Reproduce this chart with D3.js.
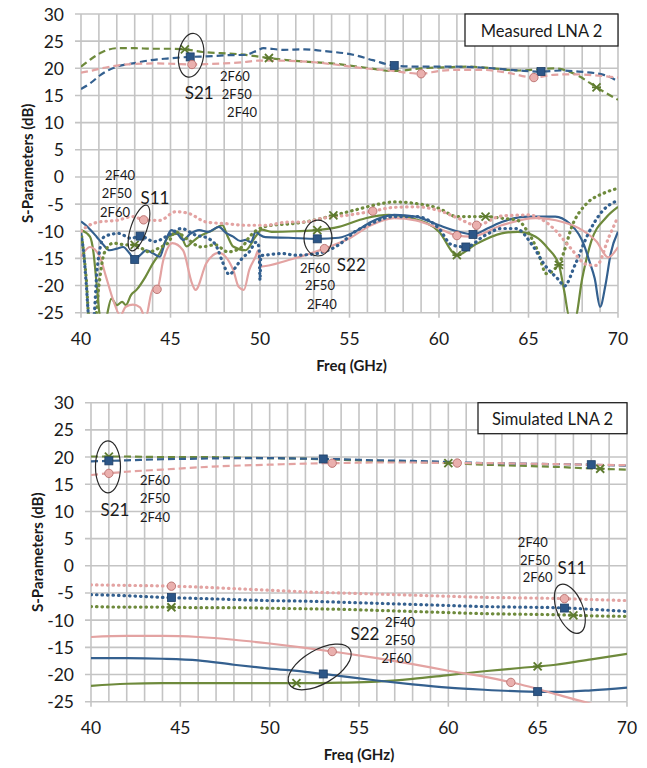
<!DOCTYPE html>
<html>
<head>
<meta charset="utf-8">
<script src="https://cdn.jsdelivr.net/npm/d3@7"></script>
<style>
  body { margin: 0; background: #fff; }
  text { font-family: Lato, "Noto Sans", sans-serif; fill: #1a1a1a; }
</style>
</head>
<body>
<div id="chart"></div>
<script>
// ---- measured LNA 2 ----
// S21 (dashed)
var measS21_2F40_f = [40, 40.5, 41, 42, 43, 44.3, 45.3, 46.2, 47.2, 48, 49, 49.9, 51, 52.7, 54.2, 55.8, 57.2, 59, 60, 61, 62.5, 63.8, 65.3, 66.4, 67.5, 68.7, 70];
var measS21_2F40_v = [19.2, 19.5, 19.9, 20.5, 20.8, 20.9, 20.8, 20.7, 20.8, 20.9, 21.1, 21.4, 21.4, 21.2, 20.7, 20.0, 19.6, 19.0, 19.5, 19.7, 19.7, 19.2, 18.3, 18.8, 18.9, 18.7, 18.3];
var measS21_2F50_f = [40, 40.5, 41.1, 42, 42.9, 43.9, 44.8, 46.1, 47, 48.1, 49.2, 49.8, 50.2, 51.3, 52.5, 53.5, 55.2, 56.3, 57.5, 59, 61, 63, 64.5, 65.7, 66.8, 67.8, 69.2, 70];
var measS21_2F50_v = [16.2, 17.2, 18.8, 20.3, 20.9, 21.5, 21.8, 22.1, 22.2, 22.4, 22.5, 23.2, 23.7, 23.4, 23.5, 23.2, 22.5, 21.5, 20.5, 20.3, 20.3, 20.0, 19.6, 19.4, 19.6, 19.4, 18.8, 17.6];
var measS21_2F60_f = [40, 40.6, 41.2, 42, 43, 44, 45, 45.8, 46.8, 47.8, 48.8, 49.6, 50.5, 51.5, 52.7, 54, 55.5, 57.5, 59, 60.5, 61.7, 63, 64.5, 65.5, 66.4, 67.2, 67.8, 68.8, 70];
var measS21_2F60_v = [20.3, 21.8, 23.0, 23.7, 23.7, 23.6, 23.6, 23.5, 23.0, 22.8, 22.6, 22.3, 21.9, 21.5, 21.2, 20.9, 20.3, 19.5, 20.0, 20.2, 20.3, 20.0, 19.6, 19.8, 20.0, 19.5, 18.6, 16.5, 14.2];

// S11 (dotted)
var measS11_2F40_f = [40, 40.3, 41, 42, 42.9, 43.5, 44.4, 45.3, 46, 47, 48.1, 49.2, 50.3, 51.6, 52.5, 53.5, 55, 56.3, 57.5, 58.7, 60, 61, 62.1, 63.5, 65, 66.4, 67.3, 68.3, 68.8, 69.5, 70];
var measS11_2F40_v = [-10, -9.2, -8.3, -8, -7.3, -7.9, -8, -6.4, -6.7, -8.3, -8.6, -8.9, -8.9, -8.3, -8.3, -7.6, -7, -6.3, -5.6, -5.5, -6.2, -7.5, -8.9, -7.2, -7, -9.5, -12.9, -16.2, -16.3, -11, -7.3];
var measS11_2F50_f = [40, 40.15, 40.3, 40.45, 40.7, 40.9, 41.3, 42.1, 42.8, 43.3, 44.1, 44.9, 45.6, 46.4, 47.1, 47.6, 47.9, 48.3, 48.6, 49, 49.4, 49.8, 49.95, 50.0, 50.05, 50.3, 51.2, 52, 53, 54.4, 55.3, 56.2, 57.5, 58.7, 60, 60.7, 61.5, 62.6, 63.5, 64.3, 65.2, 65.9, 66.7, 67, 67.6, 68.3, 69.1, 70];
var measS11_2F50_v = [-10.5, -14, -20, -26, -26, -17, -11, -10.4, -11.3, -10.9, -11.9, -10.7, -9.5, -10.7, -11.3, -13, -15.6, -18, -16.8, -15, -13.8, -12, -13, -19, -14.5, -14.4, -14.1, -14.4, -14.2, -12.5, -10.1, -8.6, -7.3, -7.3, -9.5, -12.5, -12.9, -10.7, -9.5, -9.5, -12.5, -16.2, -19, -20.1, -16.2, -10.7, -6.4, -4.3];
var measS11_2F60_f = [40, 40.15, 40.3, 40.45, 40.8, 41.0, 41.3, 41.8, 42.5, 43, 43.8, 44.4, 44.9, 45.25, 46, 46.7, 47.5, 48.2, 49, 49.35, 49.7, 50.65, 51.5, 52.5, 54.1, 55.3, 56.8, 57.5, 58.7, 60, 61, 62.6, 63.5, 64.4, 64.9, 65.5, 66, 66.8, 67.5, 68.25, 69.2, 70];
var measS11_2F60_v = [-10, -14, -19, -26, -26, -20, -14, -12.2, -12.5, -12.5, -13.8, -13, -12, -10.1, -11.6, -12.9, -12.5, -13.8, -12.9, -11.3, -10.1, -8.9, -8.7, -8.3, -7.1, -6.1, -4.9, -4.6, -4.9, -5.8, -7.3, -7.3, -7.6, -8, -9.8, -13.5, -17.8, -15.3, -8.5, -4.9, -3, -2.1];

// S22 (solid)
var measS22_2F40_f = [40, 40.5, 41.05, 41.4, 41.8, 42.2, 42.5, 42.9, 43.3, 43.6, 44, 44.25, 44.6, 45.1, 45.7, 46.2, 46.4, 47, 47.7, 48.5, 48.8, 49.1, 49.4, 49.75, 49.9, 50.0, 51.6, 53.6, 55, 56.2, 57.5, 58.7, 60, 61, 61.8, 63.5, 65.4, 66.9, 68, 68.8, 69.45, 70];
var measS22_2F40_v = [-14.7, -12.9, -14.7, -18.4, -22.7, -25.5, -23.9, -23.5, -24, -26, -20.8, -20.7, -15.3, -12.2, -13.5, -19.6, -20.8, -15.9, -14, -17.1, -20.2, -20.8, -17.1, -14.7, -13.5, -16.5, -15.3, -13.2, -11.3, -8.9, -7.6, -8, -9.5, -10.8, -11, -8.9, -7.6, -8.3, -9.8, -11.9, -14.8, -12.9];
var measS22_2F50_f = [40, 40.4, 40.87, 41.2, 41.6, 42, 42.35, 42.7, 43, 43.3, 43.65, 44, 44.4, 44.7, 45.05, 45.4, 45.7, 46.1, 46.6, 47.1, 47.7, 48.1, 48.5, 48.9, 49.2, 49.5, 49.75, 50, 50.3, 51.6, 53.2, 54.4, 55.3, 56.2, 57.5, 58.7, 60, 61, 61.9, 62.7, 63.5, 65, 66.5, 67.3, 67.8, 68.1, 68.4, 68.7, 69, 69.3, 69.6, 70];
var measS22_2F50_v = [-8.2, -9.3, -11, -12.3, -13.5, -13.2, -12.9, -14, -15.2, -14.4, -13.5, -14, -14.7, -12, -9.8, -10.5, -11.6, -10.5, -9.8, -10.1, -9.2, -10.3, -11, -11.8, -11.6, -12, -10.1, -10.7, -11.1, -11.2, -11.4, -11.2, -10.1, -8.3, -7, -7.3, -8.9, -10, -10.6, -9.5, -8.3, -7.3, -7.3, -8.6, -10.5, -12.5, -15.5, -18.7, -23.9, -19.9, -14, -10.1];
var measS22_2F60_f = [40, 40.5, 40.7, 40.87, 41.05, 41.3, 41.7, 42, 42.3, 42.5, 42.8, 43.1, 43.6, 44, 44.4, 44.9, 45.5, 45.9, 46.2, 46.6, 47.35, 47.9, 48.2, 48.5, 49.2, 49.75, 50.1, 50.65, 52, 53.2, 54.4, 55.9, 57.2, 58.5, 60, 61, 62, 63.5, 64.4, 65.4, 66.1, 66.7, 67, 67.3, 67.6, 68, 68.5, 69.3, 70];
var measS22_2F60_v = [-9.8, -11, -14, -19.6, -25.5, -27, -22.4, -23.6, -23, -23.6, -21.7, -20.8, -18.4, -16, -14, -11, -10.4, -12.8, -12, -11, -9.8, -8.9, -11, -12.8, -13.5, -11, -9.7, -10.1, -10, -9.8, -9.2, -7.6, -7, -7.6, -10.1, -14.4, -12.5, -10.4, -10.1, -11, -13.2, -16.2, -21.1, -26, -26, -18.7, -11.9, -7.6, -5.5];

// marker frequencies (measured)
var measS21_markers = { "2F40": [46.2, 59, 65.3], "2F50": [46.1, 57.5, 65.7], "2F60": [45.8, 50.5, 68.8] };
var measS11_markers = { "2F40": [43.5, 56.3, 62.1], "2F50": [43.3, 61.5], "2F60": [43, 54.1, 62.6] };
var measS22_markers = { "2F40": [44.25, 53.6, 61], "2F50": [43, 53.2, 61.9], "2F60": [53.2, 61, 66.7] };

// ---- simulated LNA 2 ----
var simFreq = [40, 42, 44, 46, 48, 50, 52, 54, 56, 58, 60, 62, 64, 66, 68, 70];
var simS21_2F40 = [16.7, 17.3, 17.7, 18.1, 18.4, 18.6, 18.8, 18.9, 19.0, 19.0, 18.9, 18.9, 18.8, 18.7, 18.6, 18.5];
var simS21_2F50 = [19.2, 19.4, 19.6, 19.7, 19.8, 19.8, 19.7, 19.6, 19.4, 19.3, 19.1, 18.9, 18.8, 18.7, 18.6, 18.4];
var simS21_2F60 = [20.1, 20.1, 20.0, 20.0, 19.9, 19.8, 19.7, 19.5, 19.3, 19.1, 18.9, 18.6, 18.4, 18.2, 17.9, 17.7];
var simS11_2F40 = [-3.5, -3.6, -3.7, -3.9, -4.2, -4.5, -4.8, -5.0, -5.2, -5.4, -5.6, -5.8, -5.9, -6.0, -6.2, -6.4];
var simS11_2F50 = [-5.3, -5.5, -5.8, -6.0, -6.2, -6.4, -6.5, -6.7, -6.9, -7.1, -7.3, -7.5, -7.6, -7.7, -8.0, -8.4];
var simS11_2F60 = [-7.5, -7.6, -7.6, -7.7, -7.7, -7.8, -7.9, -8.0, -8.2, -8.4, -8.6, -8.8, -8.9, -9.0, -9.2, -9.3];
var simS22_2F40 = [-13.1, -12.9, -12.9, -13.1, -13.6, -14.3, -15.1, -16.0, -17.0, -18.1, -19.3, -20.4, -21.8, -23.6, -25.4, -27];
var simS22_2F50 = [-17.0, -17.0, -17.1, -17.4, -18.2, -18.9, -19.5, -20.3, -21.1, -21.8, -22.4, -22.8, -23.1, -23.2, -22.9, -22.4];
var simS22_2F60 = [-22.1, -21.7, -21.6, -21.6, -21.6, -21.6, -21.6, -21.5, -21.3, -20.8, -20.1, -19.4, -18.8, -18.2, -17.2, -16.2];

var simS21_markers = { "2F40": [41, 53.5, 60.5], "2F50": [41, 53, 68], "2F60": [41, 60, 68.5] };
var simS11_markers = { "2F40": [44.5, 66.5], "2F50": [44.5, 66.5], "2F60": [44.5, 67] };
var simS22_markers = { "2F40": [53.5, 63.5], "2F50": [53, 65], "2F60": [51.5, 65] };

// axis ticks
var xTicks = [40, 45, 50, 55, 60, 65, 70];
var yTicks = [30, 25, 20, 15, 10, 5, 0, -5, -10, -15, -20, -25];

// styling
var colors = { "2F40": "#e3a3a2", "2F50": "#34608f", "2F60": "#6e8a3c" };
var dashes = { S21: "7,4", S11: "0.5,5", S22: null };

var svg = d3.select("#chart").append("svg")
  .attr("width", 647)
  .attr("height", 768);

function zip(f, v) {
  return f.map(function(d, i) { return { f: d, v: v[i] }; });
}

// value of a series at a marker frequency (linear between points)
function valueAt(pts, f) {
  var i = d3.bisector(function(d) { return d.f; }).left(pts, f);
  if (i <= 0) return pts[0].v;
  if (i >= pts.length) return pts[pts.length - 1].v;
  var a = pts[i - 1], b = pts[i];
  return a.v + (b.v - a.v) * (f - a.f) / (b.f - a.f);
}

function drawPanel(p) {
  var x = d3.scaleLinear().domain([40, 70]).range([p.left, p.right]);
  var y = d3.scaleLinear().domain([-25, 30]).range([p.bottom, p.top]);
  var g = svg.append("g");

  // grid
  g.selectAll(".vg").data(d3.range(40, 71, 1)).enter().append("line")
    .attr("x1", d => x(d)).attr("x2", d => x(d))
    .attr("y1", y(30)).attr("y2", y(-25))
    .attr("stroke", "#c4c4c4").attr("stroke-width", 1.6);
  g.selectAll(".hg").data(yTicks).enter().append("line")
    .attr("x1", x(40) - 6).attr("x2", x(70))
    .attr("y1", d => y(d)).attr("y2", d => y(d))
    .attr("stroke", "#c4c4c4").attr("stroke-width", 1.6);
  g.selectAll(".xt").data(xTicks).enter().append("line")
    .attr("x1", d => x(d)).attr("x2", d => x(d))
    .attr("y1", y(-25)).attr("y2", y(-25) + 5)
    .attr("stroke", "#c4c4c4").attr("stroke-width", 1.6);

  // tick labels
  g.selectAll(".yl").data(yTicks).enter().append("text")
    .attr("x", x(40) - 17).attr("y", d => y(d))
    .attr("text-anchor", "end").attr("dominant-baseline", "central")
    .style("font-size", "17.5px").text(d => d);
  g.selectAll(".xl").data(xTicks).enter().append("text")
    .attr("x", d => x(d)).attr("y", y(-25) + 26)
    .attr("text-anchor", "middle").attr("dominant-baseline", "central")
    .style("font-size", "17.5px").text(d => d);

  // axis titles
  g.append("text")
    .attr("x", (p.left + p.right) / 2 + p.xTitleShift).attr("y", y(-25) + p.xTitleGap)
    .attr("text-anchor", "middle").attr("dominant-baseline", "central")
    .style("font-size", "15px").style("font-weight", "bold").text("Freq (GHz)");
  g.append("text")
    .attr("transform", "translate(" + p.yTitleX + "," + ((p.top + p.bottom) / 2) + ") rotate(-90)")
    .attr("text-anchor", "middle").attr("dominant-baseline", "central")
    .style("font-size", "15px").style("font-weight", "bold").text("S-Parameters (dB)");

  // clip
  var clipId = "clip" + p.id;
  svg.append("clipPath").attr("id", clipId).append("rect")
    .attr("x", p.left).attr("y", p.top - 2)
    .attr("width", p.right - p.left).attr("height", p.bottom - p.top + 3);

  var line = d3.line().x(d => x(d.f)).y(d => y(d.v)).curve(p.curve);
  var lines = g.append("g").attr("clip-path", "url(#" + clipId + ")");
  var marks = g.append("g");

  p.series.forEach(function(s) {
    var pts = zip(s.f, s.v);
    var path = lines.append("path").datum(pts)
      .attr("d", line)
      .attr("fill", "none")
      .attr("stroke", colors[s.cfg])
      .attr("stroke-width", s.param === "S11" ? 3.2 : 2.2);
    if (dashes[s.param]) path.attr("stroke-dasharray", dashes[s.param]);
    if (s.param === "S11") path.attr("stroke-linecap", "round");

    s.markers.forEach(function(mf) {
      var cx = x(mf), cy = y(valueAt(pts, mf));
      if (s.cfg === "2F50") {
        marks.append("rect").attr("x", cx - 4).attr("y", cy - 4)
          .attr("width", 8).attr("height", 8)
          .attr("fill", "#2c5687").attr("stroke", "#1f3f66").attr("stroke-width", 0.8);
      } else if (s.cfg === "2F40") {
        marks.append("circle").attr("cx", cx).attr("cy", cy).attr("r", 4.2)
          .attr("fill", "#eab0ae").attr("stroke", "#b86e6c").attr("stroke-width", 0.9);
      } else {
        var m = marks.append("g").attr("transform", "translate(" + cx + "," + cy + ")")
          .attr("stroke", "#5d7a2e").attr("stroke-width", 1.8);
        m.append("line").attr("x1", -4).attr("y1", -4).attr("x2", 4).attr("y2", 4);
        m.append("line").attr("x1", -4).attr("y1", 4).attr("x2", 4).attr("y2", -4);
        m.append("line").attr("x1", -4.5).attr("y1", 0).attr("x2", 4.5).attr("y2", 0);
      }
    });
  });

  // annotations
  p.ellipses.forEach(function(e) {
    g.append("ellipse")
      .attr("transform", "translate(" + x(e.f) + "," + y(e.v) + ") rotate(" + e.rot + ")")
      .attr("rx", e.rx).attr("ry", e.ry)
      .attr("fill", "none").attr("stroke", "#2a2a2a").attr("stroke-width", 1.2);
  });
  p.labels.forEach(function(l) {
    g.append("text")
      .attr("x", x(l.f)).attr("y", y(l.v))
      .attr("text-anchor", "middle").attr("dominant-baseline", "central")
      .style("font-size", l.size + "px").text(l.text);
  });

  // title box
  var bw = p.boxW, bh = p.boxH;
  g.append("rect")
    .attr("x", p.right - bw).attr("y", p.top)
    .attr("width", bw).attr("height", bh)
    .attr("fill", "#fff").attr("stroke", "#222").attr("stroke-width", 1.3);
  g.append("text")
    .attr("x", p.right - bw / 2).attr("y", p.top + bh / 2 + 1)
    .attr("text-anchor", "middle").attr("dominant-baseline", "central")
    .style("font-size", "16.5px").text(p.title);
}

function seriesSet(data, markers) {
  var out = [];
  ["S22", "S11", "S21"].forEach(function(param) {
    ["2F60", "2F50", "2F40"].forEach(function(cfg) {
      var d = data[param][cfg];
      out.push({ param: param, cfg: cfg, f: d[0], v: d[1], markers: markers[param][cfg] });
    });
  });
  return out;
}

var measData = {
  S21: { "2F40": [measS21_2F40_f, measS21_2F40_v], "2F50": [measS21_2F50_f, measS21_2F50_v], "2F60": [measS21_2F60_f, measS21_2F60_v] },
  S11: { "2F40": [measS11_2F40_f, measS11_2F40_v], "2F50": [measS11_2F50_f, measS11_2F50_v], "2F60": [measS11_2F60_f, measS11_2F60_v] },
  S22: { "2F40": [measS22_2F40_f, measS22_2F40_v], "2F50": [measS22_2F50_f, measS22_2F50_v], "2F60": [measS22_2F60_f, measS22_2F60_v] }
};
var simData = {
  S21: { "2F40": [simFreq, simS21_2F40], "2F50": [simFreq, simS21_2F50], "2F60": [simFreq, simS21_2F60] },
  S11: { "2F40": [simFreq, simS11_2F40], "2F50": [simFreq, simS11_2F50], "2F60": [simFreq, simS11_2F60] },
  S22: { "2F40": [simFreq, simS22_2F40], "2F50": [simFreq, simS22_2F50], "2F60": [simFreq, simS22_2F60] }
};

drawPanel({
  id: "m", left: 81, right: 618, top: 14, bottom: 312.7,
  xTitleGap: 52, xTitleShift: 2, yTitleX: 27,
  curve: d3.curveMonotoneX,
  title: "Measured LNA 2", boxW: 153, boxH: 32,
  series: seriesSet(measData, { S21: measS21_markers, S11: measS11_markers, S22: measS22_markers }),
  ellipses: [
    { f: 46.15, v: 22.4, rx: 12.5, ry: 22, rot: 8 },
    { f: 43.24, v: -9.4, rx: 8, ry: 24, rot: 19 },
    { f: 53.24, v: -11.25, rx: 14, ry: 18, rot: 0 }
  ],
  labels: [
    { f: 46.6, v: 15.6, text: "S21", size: 17 },
    { f: 48.6, v: 18.6, text: "2F60", size: 13 },
    { f: 48.7, v: 15.3, text: "2F50", size: 13 },
    { f: 49.0, v: 12.0, text: "2F40", size: 13 },
    { f: 44.13, v: -3.7, text: "S11", size: 17 },
    { f: 42.18, v: 0.35, text: "2F40", size: 13 },
    { f: 42.0, v: -3.0, text: "2F50", size: 13 },
    { f: 41.9, v: -6.5, text: "2F60", size: 13 },
    { f: 55.1, v: -16.2, text: "S22", size: 17 },
    { f: 53.07, v: -16.8, text: "2F60", size: 13 },
    { f: 53.35, v: -19.9, text: "2F50", size: 13 },
    { f: 53.46, v: -23.4, text: "2F40", size: 13 }
  ]
});

drawPanel({
  id: "s", left: 91, right: 627, top: 402.7, bottom: 701.7,
  xTitleGap: 52, xTitleShift: 0, yTitleX: 37,
  curve: d3.curveMonotoneX,
  title: "Simulated LNA 2", boxW: 149, boxH: 31,
  series: seriesSet(simData, { S21: simS21_markers, S11: simS11_markers, S22: simS22_markers }),
  ellipses: [
    { f: 40.95, v: 18.2, rx: 12.5, ry: 26, rot: 0 },
    { f: 66.8, v: -7.9, rx: 13, ry: 26, rot: -22 },
    { f: 52.8, v: -18.6, rx: 35, ry: 17, rot: -30 }
  ],
  labels: [
    { f: 41.34, v: 10.3, text: "S21", size: 17 },
    { f: 43.58, v: 15.8, text: "2F60", size: 13 },
    { f: 43.58, v: 12.5, text: "2F50", size: 13 },
    { f: 43.58, v: 9.0, text: "2F40", size: 13 },
    { f: 66.92, v: -0.4, text: "S11", size: 17 },
    { f: 64.73, v: 4.4, text: "2F40", size: 13 },
    { f: 64.85, v: 1.1, text: "2F50", size: 13 },
    { f: 65.0, v: -2.0, text: "2F60", size: 13 },
    { f: 55.33, v: -12.4, text: "S22", size: 17 },
    { f: 57.3, v: -10.3, text: "2F40", size: 13 },
    { f: 57.3, v: -13.6, text: "2F50", size: 13 },
    { f: 57.1, v: -16.9, text: "2F60", size: 13 }
  ]
});
</script>
</body>
</html>
